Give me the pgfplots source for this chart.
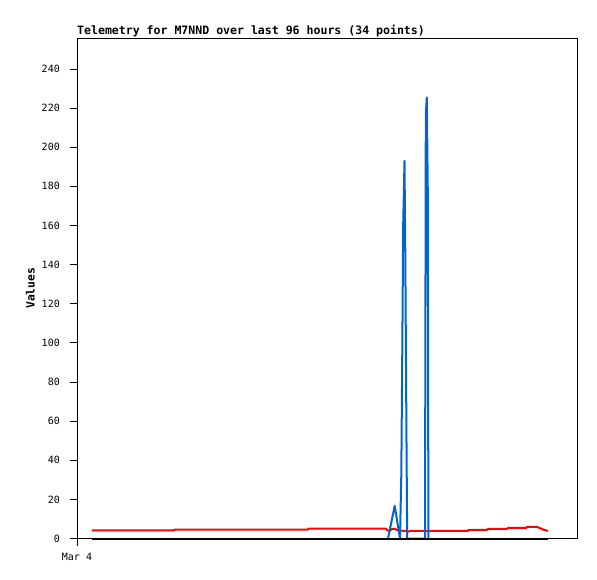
\documentclass[border=0pt]{standalone}
\usepackage{fontspec}
\setmainfont{DejaVu Sans Mono}
\usepackage{pgfplots}
\pgfplotsset{compat=1.18}
\definecolor{tblue}{RGB}{0,102,204}
\definecolor{tred}{RGB}{255,0,0}
\begin{document}
\begin{tikzpicture}
\begin{axis}[
 at={(0pt,0pt)}, anchor=south west,
 scale only axis, width=500pt, height=500.5pt,
 xmin=77, xmax=577, ymin=0, ymax=255.8,
 clip=false,
 axis line style={black, line width=0.8pt},
 ytick={0,20,...,240},
 xtick={77}, xticklabels={Mar 4},
 tick align=outside, major tick length=7pt,
 xtick pos=bottom, ytick pos=left,
 tick style={black, line width=0.8pt},
 /pgf/number format/assume math mode=true,
 tick label style={font=\fontsize{10}{12}\selectfont},
 yticklabel style={inner sep=0pt, anchor=east, xshift=-10pt},
 xticklabel style={inner sep=0pt, anchor=north, yshift=-8pt},
 title={Telemetry for M7NND over last 96 hours (34 points)},
 every axis title shift=0pt,
 title style={at={(axis description cs:0,1.006)}, anchor=base west, inner sep=0pt, font=\fontsize{11.55}{13}\selectfont\bfseries},
 ylabel={Values},
 every axis y label/.style={at={(axis description cs:-0.084,0.5)}, rotate=90, anchor=south, inner sep=0pt, font=\fontsize{11.4}{13}\selectfont\bfseries},
 every axis plot/.append style={line width=2pt, line join=round, no markers},
]
\addplot[tred] coordinates {
(92,4.1) (173,4.1) (175,4.5) (307,4.5) (309,5.0) (386,5.0) (388,4.0) (390,4.0) (392,4.9) (395,4.9) (397,4.3) (400,4.0) (406,3.9) (408,3.4) (410,3.9) (468,3.9) (469,4.4) (487,4.4) (488,4.9) (507,4.9) (508,5.4) (526,5.4) (527,5.9) (537,5.9) (540,5.3) (544,4.4) (548,3.9)
};
\addplot[tblue] coordinates {
(388,0) (394.7,16.7) (400,0) (401.3,32.5) (402.3,97) (403.2,160.7) (404.5,193) (405.3,145) (406.5,49) (407.2,0) (425,0) (425.8,217) (426.8,225.4) (427.8,177) (428.4,0)
};
\addplot[black] coordinates {(92,0) (548,0)};
\end{axis}
\pgfresetboundingbox
\path (-77pt,-40.5pt) rectangle (520pt,538.5pt);
\end{tikzpicture}
\end{document}
